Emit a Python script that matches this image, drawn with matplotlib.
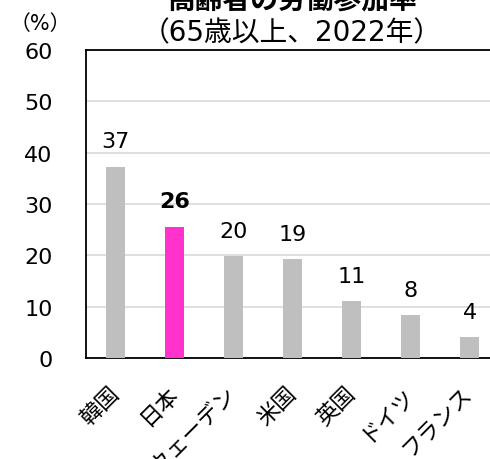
# Labour force participation of people aged 65+, 2022 (bar chart, Japan highlighted)

import matplotlib
matplotlib.use("Agg")
import matplotlib.pyplot as plt

countries = ["韓国", "日本", "スウェーデン", "米国", "英国", "ドイツ", "フランス"]
rates = [37.3, 25.6, 19.9, 19.2, 11.1, 8.4, 4.0]     # %
HIGHLIGHT = "日本"

plt.rcParams["font.family"] = ["DejaVu Sans", "Noto Sans CJK JP"]

GRAY, PINK = "#BFBFBF", "#FF33CC"

fig = plt.figure(figsize=(4.9, 4.6), dpi=100)
ax = fig.add_axes([86 / 490, 101 / 460, 413 / 490, 308 / 460])

x = range(len(countries))
colors = [PINK if c == HIGHLIGHT else GRAY for c in countries]
ax.bar(x, rates, width=0.31, color=colors, zorder=3)

for i, (c, v) in enumerate(zip(countries, rates)):
    ax.annotate(f"{v:.0f}", (i, v), xytext=(0, 11), textcoords="offset points",
                ha="center", va="bottom", fontsize=16,
                fontweight="bold" if c == HIGHLIGHT else "normal")

ax.set_xlim(-0.5, len(countries) - 0.5)
ax.set_ylim(0, 60)
ax.set_yticks(range(0, 61, 10))
ax.yaxis.grid(True, color="#D9D9D9", lw=1.2, zorder=0)
ax.set_axisbelow(True)

ax.set_xticks(list(x))
ax.set_xticklabels(countries, rotation=45, ha="right", va="center",
                   rotation_mode="anchor", fontsize=16)
ax.tick_params(axis="x", length=0, pad=23)
ax.tick_params(axis="y", length=0, pad=24, labelsize=16)

for side in ("top", "left", "bottom"):
    ax.spines[side].set_linewidth(1.3)
ax.spines["right"].set_visible(False)

fig.text(292 / 490, 1.0, "高齢者の労働参加率", ha="center", va="center",
         fontsize=20, fontweight="bold")
fig.text(292 / 490, 1 - 33 / 460, "（65歳以上、2022年）", ha="center", va="center",
         fontsize=20)
fig.text(40 / 490, 1 - 24 / 460, "（%）", ha="center", va="center", fontsize=15)

fig.savefig("out.png", dpi=100)
